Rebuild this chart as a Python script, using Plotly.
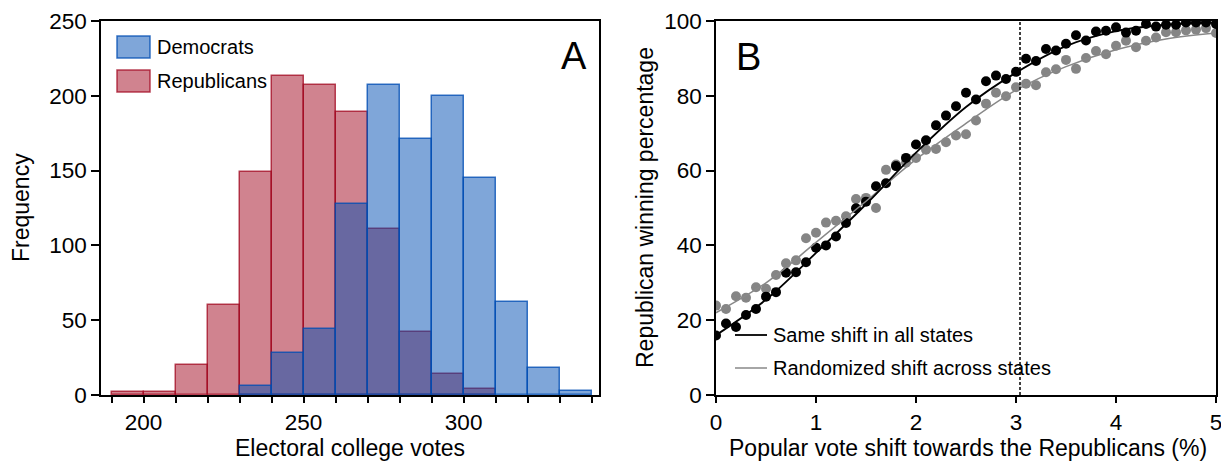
import plotly.graph_objects as go

# ---------------- Panel A data (histogram of electoral college votes) ----------------
bin_left = [190, 200, 210, 220, 230, 240, 250, 260, 270, 280, 290, 300, 310, 320, 330]
bin_width = 10
rep_counts = [2, 2, 20, 60, 149, 213, 207, 189, 111, 42, 14, 4, 0, 0, 0]
dem_counts = [0, 0, 0, 0, 6, 28, 44, 128, 207, 171, 200, 145, 62, 18, 3]
a_tickvals = [190, 200, 210, 220, 230, 240, 250, 260, 270, 280, 290, 300, 310, 320, 330, 340]
a_ticktext = ["", "200", "", "", "", "", "250", "", "", "", "", "300", "", "", "", ""]

# ---------------- Panel B data (winning percentage vs vote shift) ----------------
shift_x = [0.0, 0.1, 0.2, 0.3, 0.4, 0.5, 0.6, 0.7, 0.8, 0.9,
           1.0, 1.1, 1.2, 1.3, 1.4, 1.5, 1.6, 1.7, 1.8, 1.9,
           2.0, 2.1, 2.2, 2.3, 2.4, 2.5, 2.6, 2.7, 2.8, 2.9,
           3.0, 3.1, 3.2, 3.3, 3.4, 3.5, 3.6, 3.7, 3.8, 3.9,
           4.0, 4.1, 4.2, 4.3, 4.4, 4.5, 4.6, 4.7, 4.8, 4.9, 5.0]
same_shift = [15.9, 19.1, 18.2, 21.4, 23.0, 26.3, 27.5, 32.7, 32.8, 35.5,
              39.4, 40.0, 42.4, 46.0, 49.9, 51.7, 55.8, 56.6, 61.2, 63.4,
              67.0, 68.1, 72.1, 74.7, 77.2, 80.8, 79.0, 83.9, 85.4, 84.5,
              86.4, 89.9, 89.3, 92.5, 92.1, 93.9, 96.2, 94.8, 97.2, 97.4,
              98.3, 96.9, 97.4, 99.2, 98.5, 99.0, 99.0, 99.6, 99.6, 99.6, 99.2]
random_shift = [23.9, 23.0, 26.4, 26.0, 28.8, 28.4, 32.1, 35.2, 36.0, 41.9,
                43.4, 46.1, 46.6, 47.8, 52.4, 52.7, 50.0, 60.2, 61.6, 62.1,
                63.4, 65.6, 65.8, 67.6, 69.4, 69.7, 73.4, 77.9, 80.8, 79.9,
                82.3, 83.2, 82.8, 86.3, 87.1, 89.6, 87.2, 90.1, 92.0, 91.1,
                93.4, 94.7, 93.0, 94.7, 95.6, 97.0, 97.0, 97.5, 97.7, 98.1, 96.8]
fit_x = [0.0, 0.5, 1.0, 1.5, 2.0, 2.5, 3.0, 3.5, 4.0, 4.5, 5.0]
same_fit = [16.0, 25.5, 38.0, 51.0, 64.8, 77.0, 86.2, 93.3, 97.3, 99.0, 99.6]
random_fit = [22.0, 30.0, 40.8, 51.8, 63.0, 72.6, 81.5, 87.8, 92.3, 95.2, 96.8]
observed_shift = 3.04

FONT = "Liberation Sans, Arial, sans-serif"
RED_FILL = "rgba(161,7,31,0.5)"
RED_LINE = "rgba(161,7,31,0.75)"
BLUE_FILL = "rgba(0,77,179,0.5)"
BLUE_LINE = "rgba(0,77,179,0.78)"

fig = go.Figure()

def nonzero(edges, counts):
    xs = [e + bin_width / 2 for e, c in zip(edges, counts) if c > 0]
    ys = [c for c in counts if c > 0]
    return xs, ys

rx, ry = nonzero(bin_left, rep_counts)
dx, dy = nonzero(bin_left, dem_counts)
fig.add_trace(go.Bar(x=rx, y=ry, width=bin_width, name="Republicans",
                     marker=dict(color=RED_FILL, line=dict(color=RED_LINE, width=1.5)),
                     xaxis="x", yaxis="y", showlegend=False))
fig.add_trace(go.Bar(x=dx, y=dy, width=bin_width, name="Democrats",
                     marker=dict(color=BLUE_FILL, line=dict(color=BLUE_LINE, width=1.5)),
                     xaxis="x", yaxis="y", showlegend=False))

fig.add_trace(go.Scatter(x=shift_x, y=random_shift, mode="markers",
                         marker=dict(color="#858585", size=10),
                         xaxis="x2", yaxis="y2", showlegend=False))
fig.add_trace(go.Scatter(x=shift_x, y=same_shift, mode="markers",
                         marker=dict(color="black", size=10),
                         xaxis="x2", yaxis="y2", showlegend=False))
fig.add_trace(go.Scatter(x=fit_x, y=random_fit, mode="lines", line_shape="spline",
                         line=dict(color="#888888", width=1.5),
                         xaxis="x2", yaxis="y2", showlegend=False))
fig.add_trace(go.Scatter(x=fit_x, y=same_fit, mode="lines", line_shape="spline",
                         line=dict(color="black", width=1.8),
                         xaxis="x2", yaxis="y2", showlegend=False))

W, H = 1221, 462
def px(x):
    return x / W
def py(y):
    return 1 - y / H

axis_common = dict(showline=True, linecolor="black", linewidth=1.5, mirror=True,
                   ticks="outside", tickcolor="black", tickwidth=1.5,
                   showgrid=False, zeroline=False, automargin=False,
                   ticklabeloverflow="allow",
                   tickfont=dict(family=FONT, size=22.5, color="black"))

fig.update_layout(
    width=W, height=H,
    margin=dict(l=0, r=0, t=0, b=0, autoexpand=False),
    paper_bgcolor="white", plot_bgcolor="white",
    barmode="overlay", bargap=0,
    font=dict(family=FONT, size=23, color="black"),
    xaxis=dict(domain=[px(101), px(599)], range=[186.7, 342.3],
               tickvals=a_tickvals, ticktext=a_ticktext, ticklen=6,
               anchor="y", **axis_common),
    yaxis=dict(domain=[py(395), py(21)], range=[0, 250], dtick=50, ticklen=8,
               anchor="x", **axis_common),
    xaxis2=dict(domain=[px(716), px(1216)], range=[0, 5], dtick=1, ticklen=6,
                anchor="y2", **axis_common),
    yaxis2=dict(domain=[py(395), py(21)], range=[0, 100], dtick=20, ticklen=8,
                anchor="x2", **axis_common),
)

# axis titles
titles = [
    ("Electoral college votes", 350, 448, 0),
    ("Popular vote shift towards the Republicans (%)", 968, 448, 0),
    ("Frequency", 21, 208, -90),
    ("Republican winning percentage", 645, 208, -90),
]
for text, tx, ty, ang in titles:
    fig.add_annotation(xref="paper", yref="paper", x=px(tx), y=py(ty), text=text, showarrow=False,
                       xanchor="center", yanchor="middle", textangle=ang,
                       font=dict(family=FONT, size=23, color="black"))

# dotted vertical reference line at the observed shift
fig.add_shape(type="line", xref="x2", yref="y2", x0=observed_shift, x1=observed_shift, y0=0, y1=100,
              line=dict(color="black", width=1.5, dash="3px,2px"))

# Panel A legend (drawn)
legend_a = [("Democrats", BLUE_FILL, BLUE_LINE, 36, 58), ("Republicans", RED_FILL, RED_LINE, 70, 92)]
for name, fill, edge, y0, y1 in legend_a:
    fig.add_shape(type="rect", xref="paper", yref="paper", x0=px(117), x1=px(150), y0=py(y1), y1=py(y0),
                  fillcolor=fill, line=dict(color=edge, width=1.5))
    fig.add_annotation(xref="paper", yref="paper", x=px(155), y=py((y0 + y1) / 2), text=name,
                       showarrow=False, xanchor="left", yanchor="middle",
                       font=dict(family=FONT, size=20, color="black"))

# Panel B legend (drawn)
legend_b = [("Same shift in all states", "black", 1.8, 335), ("Randomized shift across states", "#888888", 1.5, 368)]
for name, color, wid, yc in legend_b:
    fig.add_shape(type="line", xref="paper", yref="paper", x0=px(735), x1=px(767), y0=py(yc), y1=py(yc),
                  line=dict(color=color, width=wid))
    fig.add_annotation(xref="paper", yref="paper", x=px(771), y=py(yc), text=name,
                       showarrow=False, xanchor="left", yanchor="middle",
                       font=dict(family=FONT, size=20, color="black"))

# Panel letters
fig.add_annotation(xref="paper", yref="paper", x=px(573.5), y=py(56), text="A", showarrow=False,
                   xanchor="center", yanchor="middle", font=dict(family=FONT, size=38, color="black"))
fig.add_annotation(xref="paper", yref="paper", x=px(748), y=py(56.5), text="B", showarrow=False,
                   xanchor="center", yanchor="middle", font=dict(family=FONT, size=38, color="black"))

fig.write_html("out.html")
